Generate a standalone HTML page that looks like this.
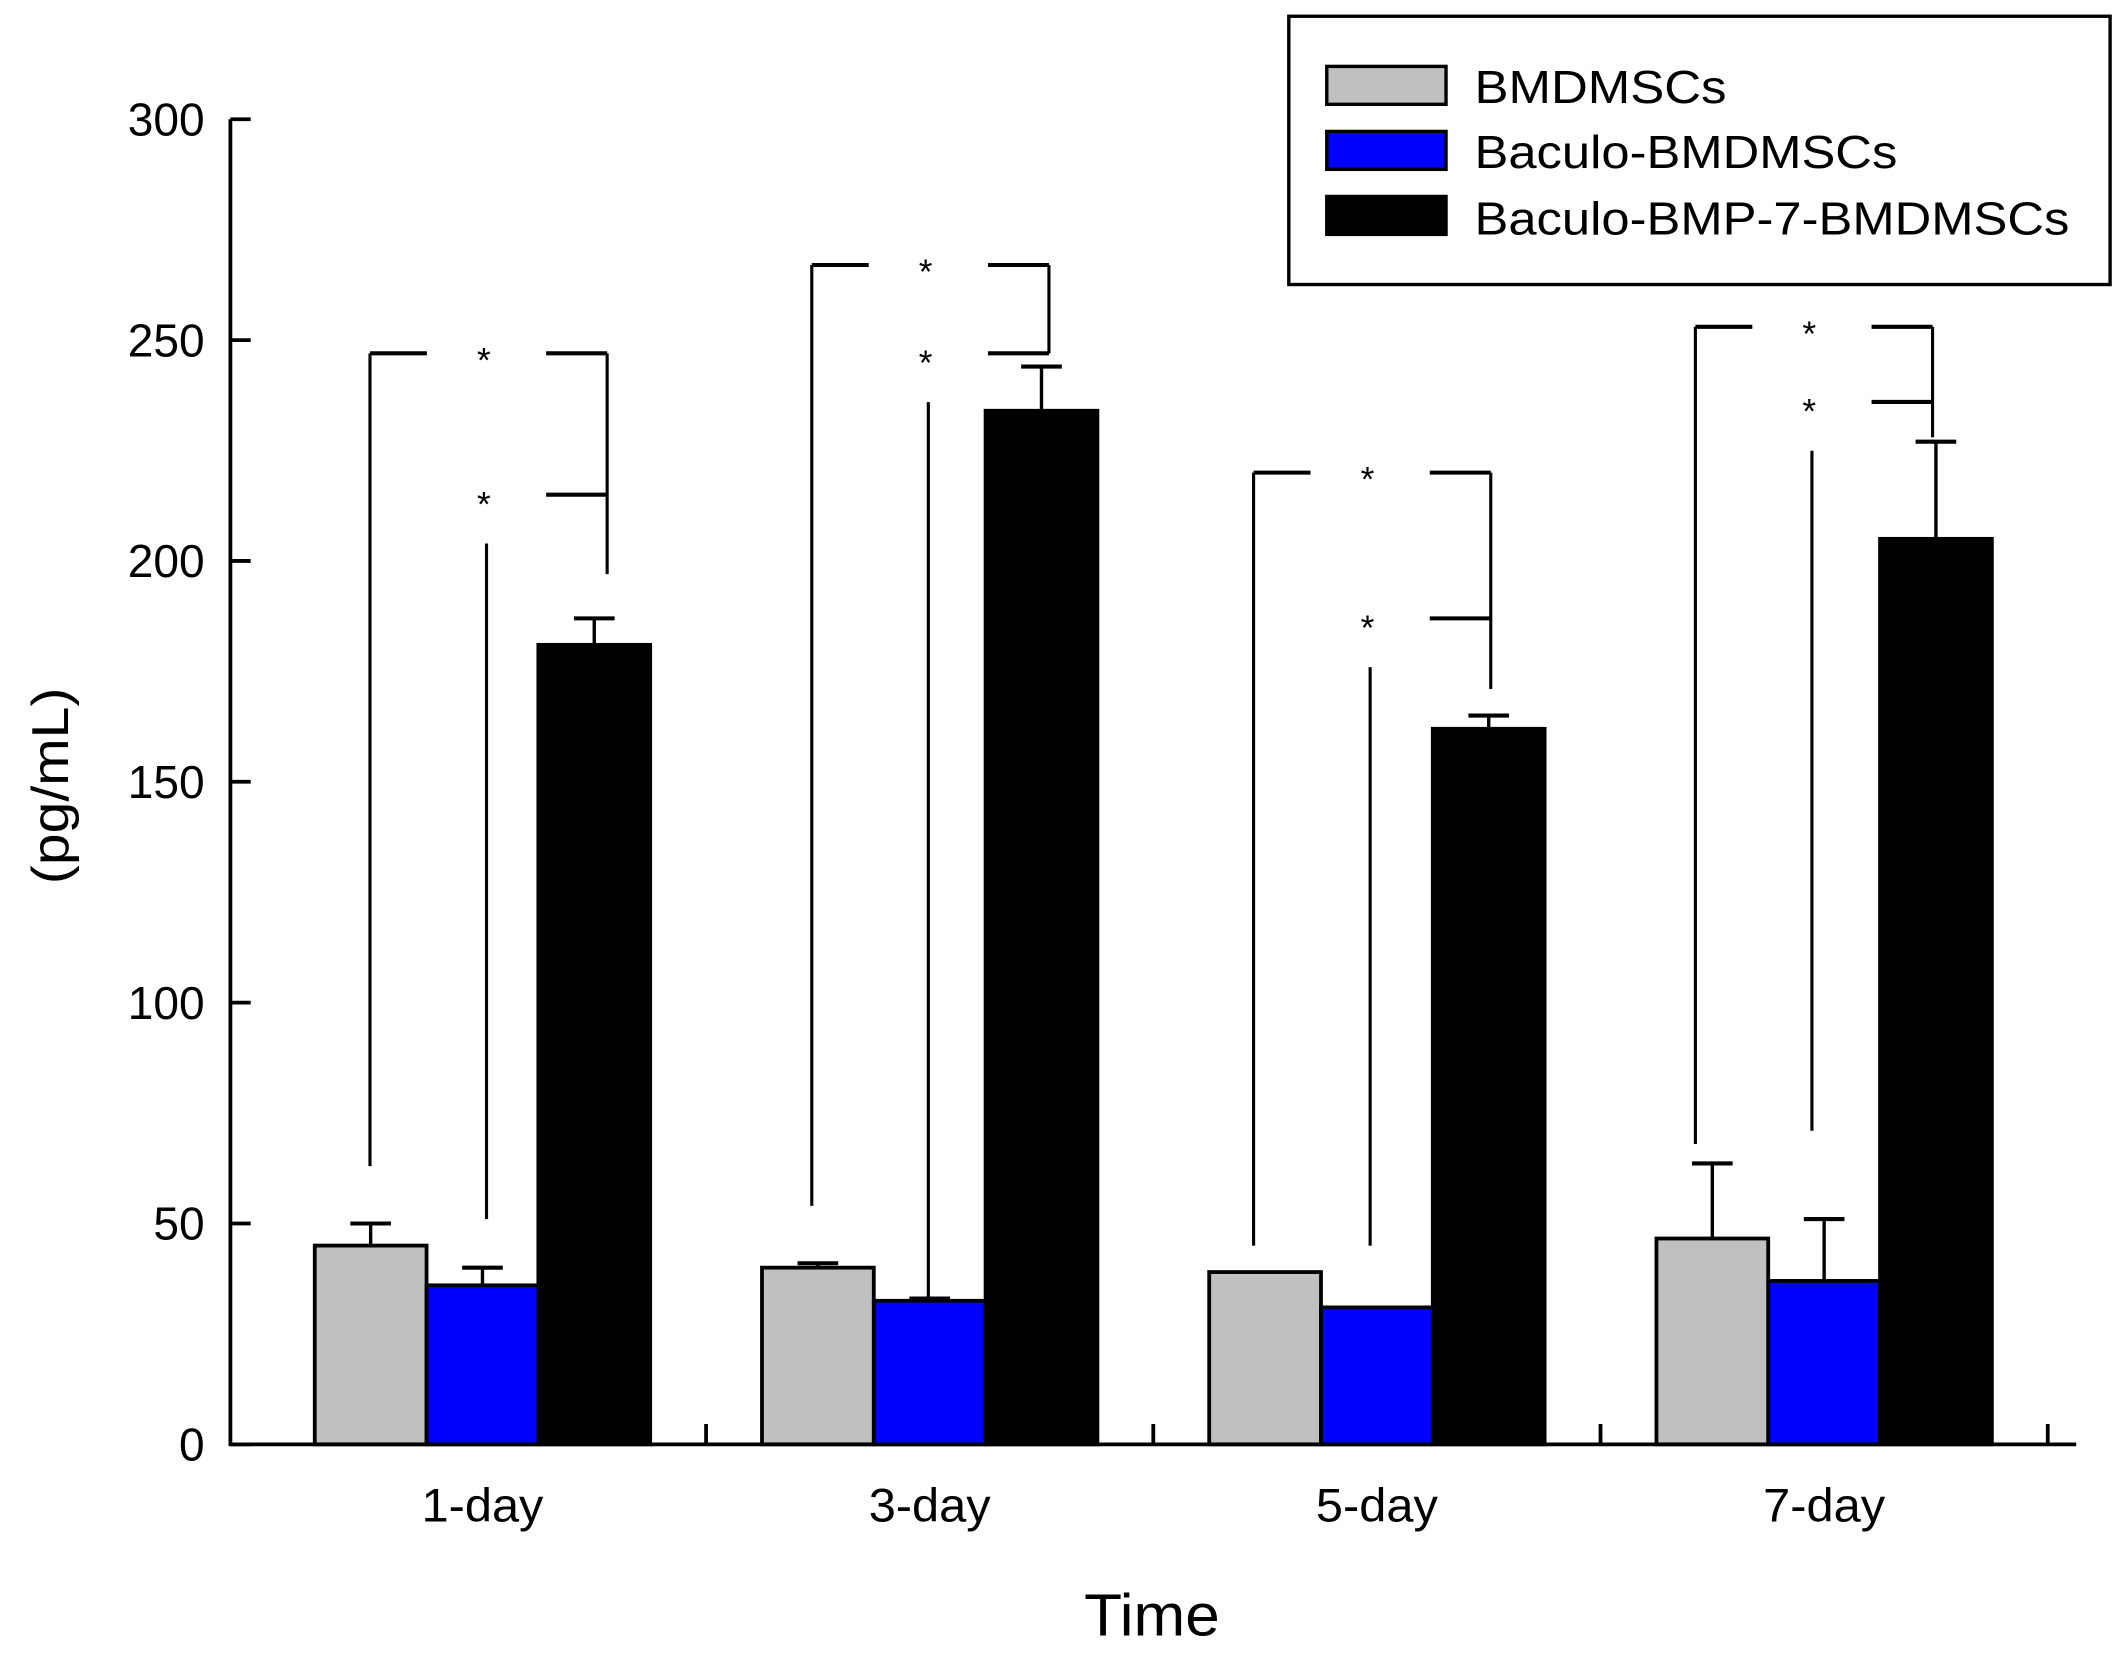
<!DOCTYPE html>
<html><head><meta charset="utf-8"><style>
html,body{margin:0;padding:0;background:#fff;}
svg{display:block;}
text{font-family:"Liberation Sans",Arial,sans-serif;fill:#000;}
</style></head><body>
<svg id="chart" width="2125" height="1653" viewBox="0 0 1568 1220" preserveAspectRatio="none" xmlns="http://www.w3.org/2000/svg">
<rect x="0" y="0" width="1568" height="1220" fill="#fff"/>
<g id="plot"></g>
<g>
  <rect x="951" y="12" width="606" height="198" fill="#fff" stroke="#000" stroke-width="2.5"/>
  <rect x="979" y="49" width="88" height="28" fill="#c0c0c0" stroke="#000" stroke-width="2.5"/>
  <text x="1088" y="76" font-size="34" textLength="186" lengthAdjust="spacingAndGlyphs">BMDMSCs</text>
  <rect x="979" y="97" width="88" height="28" fill="#0000ff" stroke="#000" stroke-width="2.5"/>
  <text x="1088" y="124" font-size="34" textLength="312" lengthAdjust="spacingAndGlyphs">Baculo-BMDMSCs</text>
  <rect x="979" y="145" width="88" height="28" fill="#000" stroke="#000" stroke-width="2.5"/>
  <text x="1088" y="173" font-size="34" textLength="439" lengthAdjust="spacingAndGlyphs">Baculo-BMP-7-BMDMSCs</text>
</g>
<text transform="translate(50,580) rotate(-90)" text-anchor="middle" font-size="38" textLength="145" lengthAdjust="spacingAndGlyphs">(pg/mL)</text>
<text x="850" y="1207" text-anchor="middle" font-size="44" textLength="100" lengthAdjust="spacingAndGlyphs">Time</text>
</svg>
<script>
const categories = ["1-day","3-day","5-day","7-day"];
const seriesNames = ["BMDMSCs","Baculo-BMDMSCs","Baculo-BMP-7-BMDMSCs"];
const bmdmscs = [45, 40, 39, 46.6];
const bmdmscsErr = [5, 1, 0, 17];
const baculo = [36, 32.5, 31, 37];
const baculoErr = [4, 0.5, 0, 14];
const bmp7 = [181, 234, 162, 205];
const bmp7Err = [6, 10, 3, 22];
const yTicks = [0, 50, 100, 150, 200, 250, 300];
// significance bracket levels (value units)
const outerTop = [247, 267, 220, 253];
const innerLevel = [215, 247, 187, 236];
const outerLeftBottom = [63, 54, 45, 68];
const innerBottom = [51, 32, 45, 71];
const outerRightBottom = [197, 247, 171, 228];

const X0 = 170, X1 = 1532, Y0 = 1066, Y1 = 88, YMAX = 300;
const period = 330, barW = 82.5, firstCenter = 356;
const bracketPeriod = 326;
const y = v => Y0 - (v / YMAX) * (Y0 - Y1);
const groupCenter = i => firstCenter + i * period;
const barX = (i, s) => groupCenter(i) - 1.5 * barW + s * barW;

const NS = "http://www.w3.org/2000/svg";
const plot = document.getElementById("plot");
function mk(tag, attrs, parent) {
  const el = document.createElementNS(NS, tag);
  for (const k in attrs) el.setAttribute(k, attrs[k]);
  (parent || plot).appendChild(el);
  return el;
}
function line(x1, y1, x2, y2, w) {
  return mk("line", {x1, y1, x2, y2, stroke: "#000", "stroke-width": w || 2});
}

const series = [bmdmscs, baculo, bmp7];
const errs = [bmdmscsErr, baculoErr, bmp7Err];
const fills = ["#c0c0c0", "#0000ff", "#000000"];
const keys = ["bmdmscs", "baculo", "bmp7"];

categories.forEach((c, i) => {
  for (let s = 0; s < 3; s++) {
    const v = series[s][i], e = errs[s][i];
    const bx = barX(i, s), cx = bx + barW / 2;
    if (e > 0) {
      const l1 = line(cx, y(v), cx, y(v + e), 2.5);
      
      
      const l2 = line(cx - 15, y(v + e), cx + 15, y(v + e), 3);
      
      
    }
    const r = mk("rect", {x: bx, y: y(v), width: barW, height: Y0 - y(v), fill: fills[s], stroke: "#000", "stroke-width": 2.8});
    
    
  }
  // brackets
  const g = mk("g", {});
  
  
  const gx = firstCenter + 1 + i * bracketPeriod;
  const lx = gx - 84, rx = gx + 91, ix = gx + 2;
  const yt = y(outerTop[i]), yi = y(innerLevel[i]);
  mk("line", {x1: lx, y1: yt, x2: lx, y2: y(outerLeftBottom[i]), stroke: "#000", "stroke-width": 2.3}, g);
  mk("line", {x1: lx, y1: yt, x2: lx + 42, y2: yt, stroke: "#000", "stroke-width": 3}, g);
  mk("line", {x1: gx + 46, y1: yt, x2: rx, y2: yt, stroke: "#000", "stroke-width": 3}, g);
  mk("line", {x1: rx, y1: yt, x2: rx, y2: y(outerRightBottom[i]), stroke: "#000", "stroke-width": 2.3}, g);
  mk("line", {x1: gx + 46, y1: yi, x2: rx, y2: yi, stroke: "#000", "stroke-width": 3}, g);
  mk("line", {x1: ix, y1: yi + 36, x2: ix, y2: y(innerBottom[i]), stroke: "#000", "stroke-width": 2.3}, g);
  const s1 = mk("text", {x: gx, y: yt + 14, "text-anchor": "middle", "font-size": 26}, g);
  s1.textContent = "*";
  const s2 = mk("text", {x: gx, y: yi + 16, "text-anchor": "middle", "font-size": 26}, g);
  s2.textContent = "*";
  const t = mk("text", {x: groupCenter(i), y: 1123, "text-anchor": "middle", "font-size": 35, textLength: 90, lengthAdjust: "spacingAndGlyphs"});
  t.textContent = c;
  
  
});

// axes
const ya = line(X0, Y1, X0, Y0 + 1, 2.8);


const xa = line(X0 - 1, Y0, X1, Y0, 2.8);


yTicks.forEach(v => {
  const tk = line(X0, y(v), X0 + 15, y(v), 2.8);
  
  
  const tl = mk("text", {x: 151, y: y(v) + 12, "text-anchor": "end", "font-size": 34});
  tl.textContent = v;
  
  
});
for (let i = 0; i < categories.length; i++) {
  const tx = groupCenter(i) + period / 2;
  const tk = line(tx, Y0, tx, Y0 - 15, 2.8);
  
  
}
</script>
</body></html>
